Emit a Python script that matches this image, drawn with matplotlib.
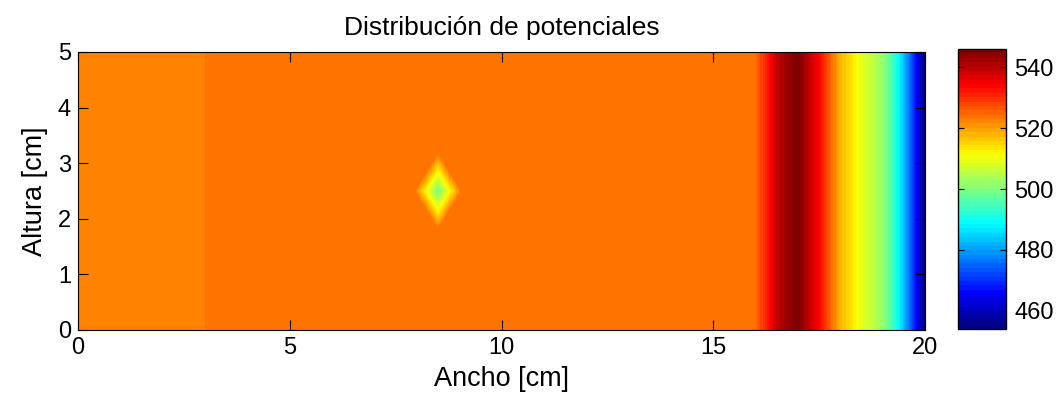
import numpy as np
import matplotlib.pyplot as plt
from matplotlib.colors import LinearSegmentedColormap

# -- DATOS --
# Perfil de potencial a lo largo del ancho (nodos en cm y valores)
ancho_nodos = [0.0, 3.0, 3.0, 16.0, 16.25, 16.5, 16.75, 17.0, 17.25, 17.5, 17.75,
               18.0, 18.25, 18.5, 18.75, 19.0, 19.25, 19.5, 19.75, 20.0]
potencial_nodos = [522.2, 522.2, 523.8, 523.8, 531.0, 539.0, 543.0, 546.0, 540.0, 534.0, 526.0,
                   518.0, 514.0, 509.0, 506.0, 502.0, 494.0, 484.0, 470.0, 454.0]

# Electrodo puntual: posición (cm), potencial en el centro y semiejes (cm)
punto_xy = (8.5, 2.5)
punto_valor = 499.0
punto_semiejes = (0.56, 0.70)

lim_color = (454.0, 546.0)
ticks_color = [460, 480, 500, 520, 540]

# -- MALLA --
x = np.linspace(0, 20, 1601)
y = np.linspace(0, 5, 401)
X, Y = np.meshgrid(x, y)
V = np.interp(X, ancho_nodos, potencial_nodos)

# rombo alrededor del punto (caída lineal)
fondo = np.interp(punto_xy[0], ancho_nodos, potencial_nodos)
peso = 1 - np.abs(X - punto_xy[0]) / punto_semiejes[0] - np.abs(Y - punto_xy[1]) / punto_semiejes[1]
peso = np.clip(peso, 0, 1)
V = V + peso * (punto_valor - fondo)

# jet de 64 niveles al estilo MATLAB
jet64 = LinearSegmentedColormap.from_list(
    'jet64', [(0.0, (0, 0, 0.5)), (0.125, (0, 0, 1)), (0.375, (0, 1, 1)),
              (0.625, (1, 1, 0)), (0.875, (1, 0, 0)), (1.0, (0.5, 0, 0))], N=64)

plt.rcParams['font.family'] = ['Liberation Sans', 'DejaVu Sans']

# -- VISUALIZACIÓN --
fig = plt.figure(figsize=(10.6, 4), dpi=100)
ax = fig.add_axes([78/1060, 70/400, 847/1060, 278/400])
cax = fig.add_axes([958/1060, 71/400, 48/1060, 280/400])

im = ax.imshow(V, origin='lower', extent=[0, 20, 0, 5], aspect='auto', cmap=jet64,
               vmin=lim_color[0], vmax=lim_color[1], interpolation='nearest')
ax.set_xlim(0, 20); ax.set_ylim(0, 5)
ax.set_xticks([0, 5, 10, 15, 20]); ax.set_yticks([0, 1, 2, 3, 4, 5])
ax.tick_params(direction='in', top=True, right=True, length=7, width=0.8, labelsize=17, pad=5)
ax.set_xlabel('Ancho [cm]', fontsize=19.5, labelpad=5)
ax.set_ylabel('Altura [cm]', fontsize=19.5, labelpad=7)
ax.set_title('Distribución de potenciales', fontsize=19, pad=12)

cb = fig.colorbar(im, cax=cax, ticks=ticks_color)
cb.ax.tick_params(direction='in', left=True, right=True, length=4, width=0.8, labelsize=17, pad=6)
cb.outline.set_linewidth(1.0)

fig.savefig('out.png', dpi=100)
